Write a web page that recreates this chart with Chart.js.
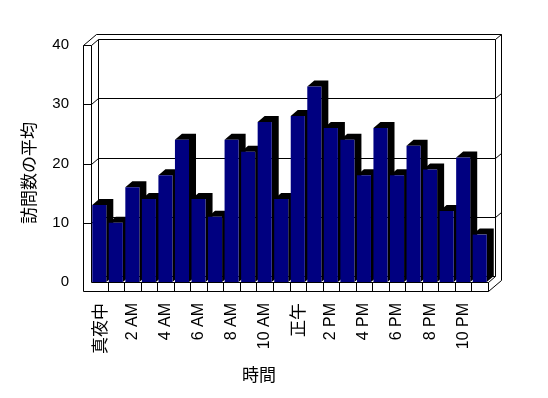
<!DOCTYPE html>
<html lang="ja">
<head>
    <meta charset="UTF-8">
    <title>訪問数の平均</title>
    <script src="https://cdn.jsdelivr.net/npm/chart.js"></script>
    <style>
        body {
            margin: 0;
            background: #ffffff;
        }
        #wrap {
            width: 548px;
            height: 398px;
        }
    </style>
</head>
<body>
    <div id="wrap">
        <canvas id="visitChart" width="548" height="398"></canvas>
    </div>

    <script>
        // hours of the day, labels shown every 2 hours
        const hours = [
            '真夜中', '1 AM', '2 AM', '3 AM', '4 AM', '5 AM', '6 AM', '7 AM', '8 AM', '9 AM', '10 AM', '11 AM',
            '正午', '1 PM', '2 PM', '3 PM', '4 PM', '5 PM', '6 PM', '7 PM', '8 PM', '9 PM', '10 PM', '11 PM'
        ];
        const avgVisits = [13, 10, 16, 14, 18, 24, 14, 11, 24, 22, 27, 14, 28, 33, 26, 24, 18, 26, 18, 23, 19, 12, 21, 8];
        const yTicks = [0, 10, 20, 30, 40];
        const xTitle = '時間';
        const yTitle = '訪問数の平均';

        const depth = { x: 7, y: -6 };    // back wall offset
        const slab = { x: 6, y: -5 };     // wall thickness going back
        const wallW = 8;                  // left wall front face width
        const floorH = 9;                 // floor front face height

        function line(ctx, x1, y1, x2, y2) {
            ctx.beginPath();
            ctx.moveTo(Math.round(x1) + 0.5, Math.round(y1) + 0.5);
            ctx.lineTo(Math.round(x2) + 0.5, Math.round(y2) + 0.5);
            ctx.stroke();
        }

        const boxPlugin = {
            id: 'box3d',
            beforeDatasetsDraw(chart) {
                const ctx = chart.ctx;
                const xs = chart.scales.x;
                const ys = chart.scales.y;
                const L = chart.chartArea.left, R = chart.chartArea.right;
                const T = ys.getPixelForValue(40), B = ys.getPixelForValue(0);
                const ox = depth.x + slab.x, oy = depth.y + slab.y;

                ctx.save();
                ctx.strokeStyle = '#000';
                ctx.lineWidth = 1;

                // back wall
                line(ctx, L + depth.x, T + depth.y, R + depth.x, T + depth.y);
                line(ctx, L + depth.x, T + depth.y, L + depth.x, B + depth.y);
                line(ctx, R + depth.x, T + depth.y, R + depth.x, B + depth.y);
                line(ctx, L + depth.x, B + depth.y, R + depth.x, B + depth.y);
                // outer edge of the walls
                line(ctx, L - wallW, T, L - wallW + ox, T + oy);
                line(ctx, L - wallW + ox, T + oy, R + ox, T + oy);
                line(ctx, R + ox, T + oy, R + ox, B + floorH + oy);
                line(ctx, L, T, L + depth.x, T + depth.y);
                line(ctx, R + depth.x, T + depth.y, R + ox, T + oy);

                // left wall front face
                line(ctx, L - wallW, T, L, T);
                line(ctx, L - wallW, T, L - wallW, B + floorH);
                line(ctx, L, T, L, B);

                // grid lines + tick marks
                yTicks.slice(1, -1).forEach(v => {
                    const y = ys.getPixelForValue(v);
                    line(ctx, L - wallW, y, L, y);
                    line(ctx, L, y, L + depth.x, y + depth.y);
                    line(ctx, L + depth.x, y + depth.y, R + depth.x, y + depth.y);
                    line(ctx, R + depth.x, y + depth.y, R + ox, y + oy);
                });

                // floor
                line(ctx, L, B, R, B);
                line(ctx, L - wallW, B + floorH, R, B + floorH);
                line(ctx, R, B, R, B + floorH);
                line(ctx, R, B, R + depth.x, B + depth.y);
                line(ctx, R, B + floorH, R + ox, B + floorH + oy);
                for (let i = 1; i < hours.length; i++) {
                    const x = (xs.getPixelForValue(i - 1) + xs.getPixelForValue(i)) / 2;
                    line(ctx, x, B, x, B + floorH);
                }

                // dark top and side of each column
                ctx.fillStyle = '#000';
                chart.getDatasetMeta(0).data.forEach(bar => {
                    const p = bar.getProps(['x', 'y', 'base', 'width'], true);
                    const x1 = p.x - p.width / 2, x2 = p.x + p.width / 2;
                    ctx.beginPath();
                    ctx.moveTo(x1, p.y);
                    ctx.lineTo(x1 + depth.x, p.y + depth.y);
                    ctx.lineTo(x2 + depth.x, p.y + depth.y);
                    ctx.lineTo(x2 + depth.x, p.base + depth.y);
                    ctx.lineTo(x2, p.base);
                    ctx.lineTo(x2, p.y);
                    ctx.closePath();
                    ctx.fill();
                });
                ctx.restore();
            },
            afterDraw(chart) {
                const ctx = chart.ctx;
                ctx.save();
                ctx.fillStyle = '#000';
                ctx.font = '17px "Noto Sans CJK JP"';
                ctx.textAlign = 'center';
                ctx.textBaseline = 'middle';
                ctx.fillText(xTitle, 259, 375);
                ctx.translate(29, 173);
                ctx.rotate(-Math.PI / 2);
                ctx.fillText(yTitle, 0, 0);
                ctx.restore();
            }
        };

        Chart.defaults.color = '#000';
        Chart.defaults.font.family = '"Liberation Sans", Arial, sans-serif';

        const ctx = document.getElementById('visitChart').getContext('2d');
        const visitChart = new Chart(ctx, {
            type: 'bar',
            data: {
                labels: hours,
                datasets: [{
                    data: avgVisits,
                    backgroundColor: '#000080',
                    borderWidth: 0,
                    barPercentage: 0.85,
                    categoryPercentage: 1.0
                }]
            },
            options: {
                responsive: false,
                animation: false,
                layout: { padding: { top: 45, right: 60, left: 0, bottom: 0 } },
                plugins: {
                    legend: { display: false },
                    tooltip: { enabled: false }
                },
                scales: {
                    x: {
                        offset: true,
                        grid: { display: false, drawTicks: false },
                        border: { display: false },
                        ticks: {
                            autoSkip: false,
                            maxRotation: 90,
                            minRotation: 90,
                            padding: 21,
                            callback: (v, i) => (i % 2 === 0 ? hours[i] : ''),
                            font: c => (/[^\x00-\x7f]/.test(hours[c.index] || '')
                                ? { family: '"Noto Sans CJK JP"', size: 17 }
                                : { size: 16 })
                        },
                        afterFit: s => { s.height = 116; }
                    },
                    y: {
                        min: 0,
                        max: 40,
                        afterBuildTicks: s => { s.ticks = yTicks.map(v => ({ value: v })); },
                        grid: { display: false, drawTicks: false },
                        border: { display: false },
                        ticks: { padding: 22, font: { size: 15 } },
                        afterFit: s => { s.width = 91; }
                    }
                }
            },
            plugins: [boxPlugin]
        });
    </script>
</body>
</html>
